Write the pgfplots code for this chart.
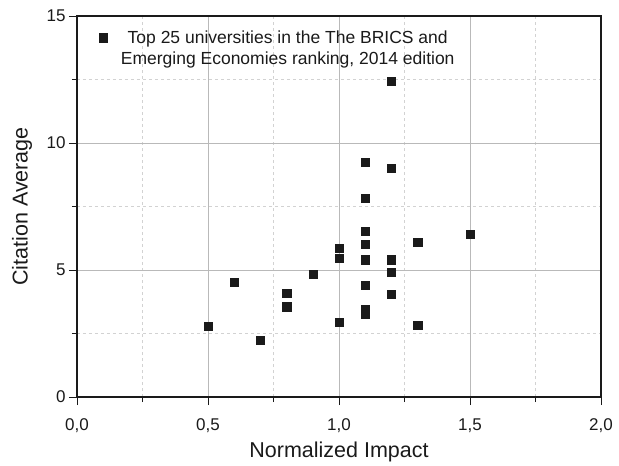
\documentclass[border=0pt]{standalone}
\usepackage{pgfplots}
\pgfplotsset{compat=1.18}
\usepackage{fontspec}
\setmainfont{Liberation Sans}
\definecolor{ink}{HTML}{1A1A1A}
\begin{document}
\begin{tikzpicture}
\begin{axis}[
  name=ax,
  scale only axis,
  width=524pt, height=381pt,
  xmin=0, xmax=2, ymin=0, ymax=15,
  xtick={0,0.5,1,1.5,2},
  minor xtick={0.25,0.75,1.25,1.75},
  ytick={0,5,10,15},
  minor ytick={2.5,7.5,12.5},
  tick align=outside,
  major tick length=8pt,
  minor tick length=5pt,
  xtick pos=bottom, ytick pos=left,
  axis line style={line width=1.1pt, ink},
  every tick/.style={ink, line width=0.9pt},
  grid=both,
  major grid style={gray!55, line width=0.6pt},
  minor grid style={gray!35, dashed, line width=0.5pt},
  xticklabel style={yshift=-10.5pt, /pgf/number format/.cd, use comma, fixed, fixed zerofill, precision=1},
  /pgf/number format/assume math mode=true,
  tick label style={font=\fontsize{17}{20}\selectfont, text=ink},
  xlabel={Normalized Impact},
  ylabel={Citation Average},
  label style={font=\fontsize{21.5}{25}\selectfont, text=ink},
  xlabel style={at={(axis description cs:0.5,-0.1444)}, anchor=center},
  ylabel style={at={(axis description cs:-0.105,0.5)}, anchor=center, rotate=0},
  legend style={at={(rel axis cs:0.0269,0.972)}, anchor=north west, draw=none, fill=none,
    font=\fontsize{17.5}{20.5}\selectfont, align=center, text=ink},
  legend cell align=center,
  legend image code/.code={\draw[#1] plot coordinates {(0.3cm,10.5pt)}; \path (0cm,0pt) (0.85cm,0pt);},
]
\addplot[only marks, mark=square*, mark size=4.1pt, color=ink, mark options={line width=0.3pt}] coordinates {
(1.2,12.45)
(1.1,9.24)
(1.2,9.02)
(1.1,7.83)
(1.1,6.52)
(1.1,6.02)
(1.0,5.86)
(1.0,5.47)
(1.1,5.41)
(1.2,5.41)
(1.3,6.09)
(1.5,6.40)
(1.2,4.90)
(0.9,4.83)
(0.6,4.52)
(1.1,4.41)
(0.8,4.08)
(1.2,4.04)
(0.8,3.56)
(1.1,3.47)
(1.1,3.26)
(1.0,2.95)
(0.5,2.79)
(1.3,2.83)
(0.7,2.25)
};
\addlegendentry{Top 25 universities in the The BRICS and\\Emerging Economies ranking, 2014 edition}
\end{axis}
\pgfresetboundingbox
\path ([xshift=-77pt,yshift=-69pt]ax.south west) rectangle ([xshift=18pt,yshift=16pt]ax.north east);
\end{tikzpicture}
\end{document}
